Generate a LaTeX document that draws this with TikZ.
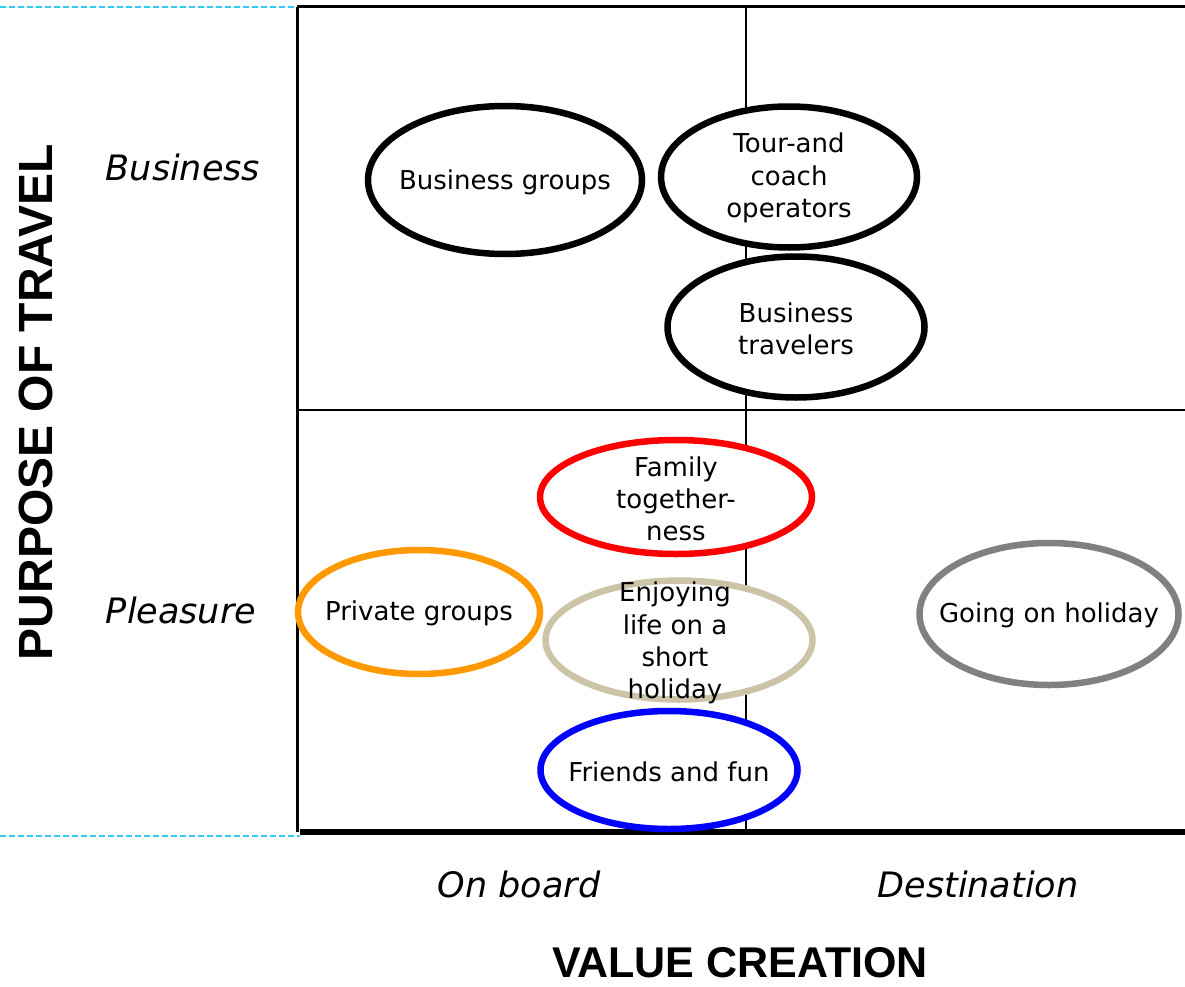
\documentclass[tikz,border=0pt]{standalone}
\usepackage{fontspec}
\setmainfont{DejaVu Sans}
\newfontfamily\headfont{Liberation Sans}
\usetikzlibrary{shapes.geometric}
\definecolor{cyanline}{HTML}{33CCF5}
\definecolor{orangeE}{HTML}{FF9900}
\definecolor{tanE}{HTML}{CCC4A6}
\definecolor{grayE}{HTML}{808080}
\definecolor{redE}{HTML}{FF0000}
\definecolor{blueE}{HTML}{0000FF}
\tikzset{
  oval/.style={ellipse, draw, line width=6.5pt, fill=white, inner sep=0pt},
  ovaltext/.style={align=center, inner sep=0pt, font=\fontsize{26}{32.3}\selectfont},
  gridline/.style={line width=2pt, black},
  guide/.style={cyanline, line width=1.2pt, dash pattern=on 6pt off 3pt},
  axislabel/.style={font=\fontsize{35}{40}\selectfont\itshape, inner sep=0pt},
  heading/.style={font=\headfont\bfseries\fontsize{48}{52}\selectfont, inner sep=0pt}
}
\begin{document}
\begin{tikzpicture}[x=1pt,y=-1pt]
\useasboundingbox (0,0) rectangle (1185,987);
% frame coordinates
\coordinate (tl) at (297,7);
\coordinate (tr) at (1185,7);
\coordinate (bl) at (297,832);
\coordinate (br) at (1185,832);
\coordinate (mt) at (746,7);
\coordinate (mb) at (746,832);
\coordinate (ml) at (297,410);
\coordinate (mr) at (1185,410);
\coordinate (gl1) at (0,7);
\coordinate (gl2) at (0,836);
\coordinate (gr2) at (300,836);
\coordinate (bls) at (300,832);
% guides
\draw[guide] (gl1) -- (tl);
\draw[guide] (gl2) -- (gr2);
% grid
\draw[line width=3pt] (tl) -- (tr);
\draw[line width=3pt] (tl) -- (bl);
\draw[gridline] (mt) -- (mb);
\draw[gridline] (ml) -- (mr);
\draw[line width=6pt] (bls) -- (br);
% ellipses
\node[oval, minimum width=274pt, minimum height=148pt] (bg) at (505,180) {};
\node[oval, minimum width=256pt, minimum height=141pt] (tour) at (789,177) {};
\node[oval, minimum width=257pt, minimum height=141pt] (btrav) at (796,327) {};
\node[oval, draw=redE, minimum width=272pt, minimum height=114pt] (family) at (676,497) {};
\node[oval, draw=orangeE, minimum width=242pt, minimum height=124pt] (private) at (419,612) {};
\node[oval, draw=tanE, minimum width=267pt, minimum height=119pt] (enjoy) at (679,640) {};
\node[oval, draw=blueE, minimum width=257pt, minimum height=118pt] (friends) at (669,770) {};
\node[oval, draw=grayE, minimum width=259pt, minimum height=142pt] (holiday) at (1049,614) {};
% ellipse texts
\node[ovaltext] (bgT) at (505,182) {Business groups};
\node[ovaltext] (tourT) at (789,178) {Tour-and\\coach\\operators};
\node[ovaltext] (btravT) at (796,329) {Business\\travelers};
\node[ovaltext] (familyT) at (676,499) {Family\\together-\\ness};
\node[ovaltext] (privateT) at (419,613) {Private groups};
\node[ovaltext] (enjoyT) at (675,643) {Enjoying\\life on a\\short\\holiday};
\node[ovaltext] (friendsT) at (669,772) {Friends and fun};
\node[ovaltext] (holidayT) at (1049,615) {Going on holiday};
% axis labels
\node[axislabel] (lbus) at (183,167) {Business};
\node[axislabel] (lplea) at (181,610) {Pleasure};
\node[axislabel] (lon) at (519,884) {On board};
\node[axislabel] (ldest) at (978,884) {Destination};
\node[heading, rotate=90] (purpose) at (36,402) {PURPOSE OF TRAVEL};
\node[heading, font=\headfont\bfseries\fontsize{43}{47}\selectfont] (value) at (740,963) {VALUE CREATION};
\end{tikzpicture}
\end{document}
